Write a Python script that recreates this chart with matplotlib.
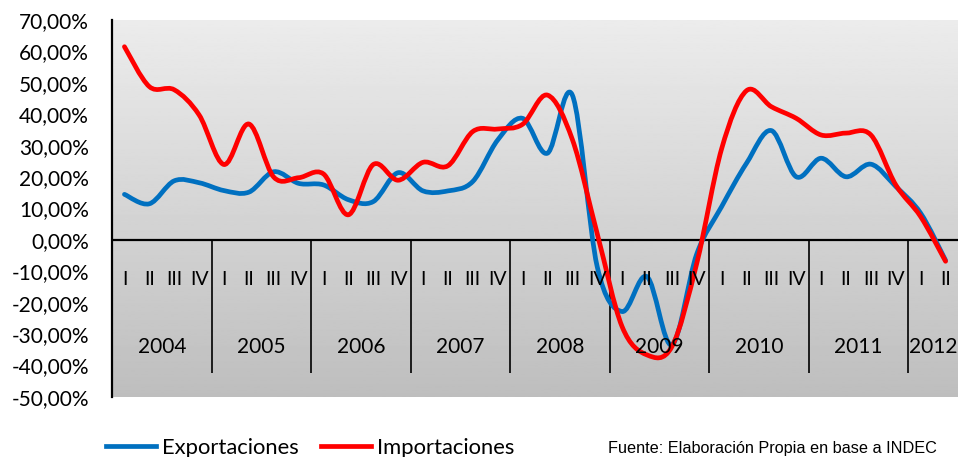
import numpy as np
import matplotlib
matplotlib.use('Agg')
import matplotlib.pyplot as plt
from matplotlib.path import Path
from matplotlib.patches import PathPatch
from matplotlib.lines import Line2D
from matplotlib.ticker import FuncFormatter

# DATOS (variación interanual trimestral, %)
#===============================================================================
years = ['2004', '2005', '2006', '2007', '2008', '2009', '2010', '2011', '2012']
quarters = ['I', 'II', 'III', 'IV']
n_quarters = [4, 4, 4, 4, 4, 4, 4, 4, 2]
expo = [14.5, 11.5, 18.8, 18.2, 15.7, 15.2, 21.7, 18.0,
        17.5, 12.8, 12.2, 21.4, 15.6, 15.6, 18.6, 31.8,
        38.7, 27.6, 46.1, -8.5, -22.8, -11.7, -33.4, -4.5,
        10.6, 24.4, 34.8, 20.1, 26.0, 20.1, 24.1, 17.0,
        8.5, -6.5]
impo = [61.5, 48.8, 47.8, 39.8, 24.0, 36.9, 20.0, 19.8,
        21.0, 8.0, 24.0, 19.0, 24.7, 23.6, 34.5, 35.3,
        36.8, 46.1, 32.0, 2.0, -27.6, -36.6, -34.0, -7.5,
        29.0, 47.5, 42.4, 38.7, 33.4, 34.0, 33.4, 17.5,
        7.4, -6.8]
y_ticks = list(range(-50, 80, 10))
source = 'Fuente: Elaboración Propia en base a INDEC'
#===============================================================================

plt.rcParams['font.family'] = ['Lato', 'DejaVu Sans']


def smooth_path(xs, ys):
  # curva suavizada tipo Excel: Bezier cubica por los puntos
  pts = np.column_stack([xs, ys]).astype(float)
  n = len(pts)
  verts = [pts[0]]
  codes = [Path.MOVETO]
  for i in range(n - 1):
    p0 = pts[max(i - 1, 0)]
    p1 = pts[i]
    p2 = pts[i + 1]
    p3 = pts[min(i + 2, n - 1)]
    c1 = p1 + (p2 - p0) / 6.0
    c2 = p2 - (p3 - p1) / 6.0
    verts += [c1, c2, p2]
    codes += [Path.CURVE4] * 3
  return Path(verts, codes)


fig = plt.figure(figsize=(9.58, 4.57), dpi=100)
ax = fig.add_axes([112 / 958, 60 / 457, 846 / 958, 377 / 457])

x = np.arange(len(expo))
ax.set_xlim(-0.5, len(expo) - 0.5)
ax.set_ylim(-50, 70)

# fondo degradado
grad = np.linspace(0.925, 0.745, 256).reshape(-1, 1)
ax.imshow(grad, cmap='gray', vmin=0, vmax=1, aspect='auto',
          extent=[0, 1, 0, 1], transform=ax.transAxes, zorder=0)

for vals, col in [(expo, '#0070C0'), (impo, '#FF0000')]:
  patch = PathPatch(smooth_path(x, vals), facecolor='none', edgecolor=col,
                    lw=3.4, capstyle='round', joinstyle='round', zorder=3)
  ax.add_patch(patch)

# eje de categorias
ax.axhline(0, color='black', lw=1.6, zorder=2)
bounds = np.cumsum(n_quarters)
ax.vlines(bounds[:-1] - 0.5, -42.3, 0, color='black', lw=1.2, zorder=2)
pos = 0
for yr, nq in zip(years, n_quarters):
  for k in range(nq):
    ax.text(pos + k, -12.5, quarters[k], ha='center', va='center', fontsize=14)
  ax.text(pos + (nq - 1) / 2, -34, yr, ha='center', va='center', fontsize=15)
  pos += nq

ax.set_xticks([])
ax.set_yticks(y_ticks)
ax.yaxis.set_major_formatter(FuncFormatter(lambda v, p: '{:.2f}%'.format(v).replace('.', ',')))
ax.tick_params(axis='y', length=0, pad=16.5, labelsize=15)
for s in ['top', 'right', 'bottom']:
  ax.spines[s].set_visible(False)
ax.spines['left'].set_linewidth(1.6)

handles = [Line2D([], [], color='#0070C0', lw=3.4),
           Line2D([], [], color='#FF0000', lw=3.4)]
fig.legend(handles, ['Exportaciones', 'Importaciones'], loc='center left',
           bbox_to_anchor=(106 / 958, 1 - 448 / 457), ncol=2, frameon=False,
           fontsize=15.8, handlelength=2.3, handletextpad=0.25,
           columnspacing=1.0, borderpad=0, borderaxespad=0)
fig.text(937 / 958, 1 - 448 / 457, source, ha='right', va='center',
         fontsize=11.7, family=['Liberation Sans', 'DejaVu Sans'])

fig.savefig('out.png', dpi=100)
